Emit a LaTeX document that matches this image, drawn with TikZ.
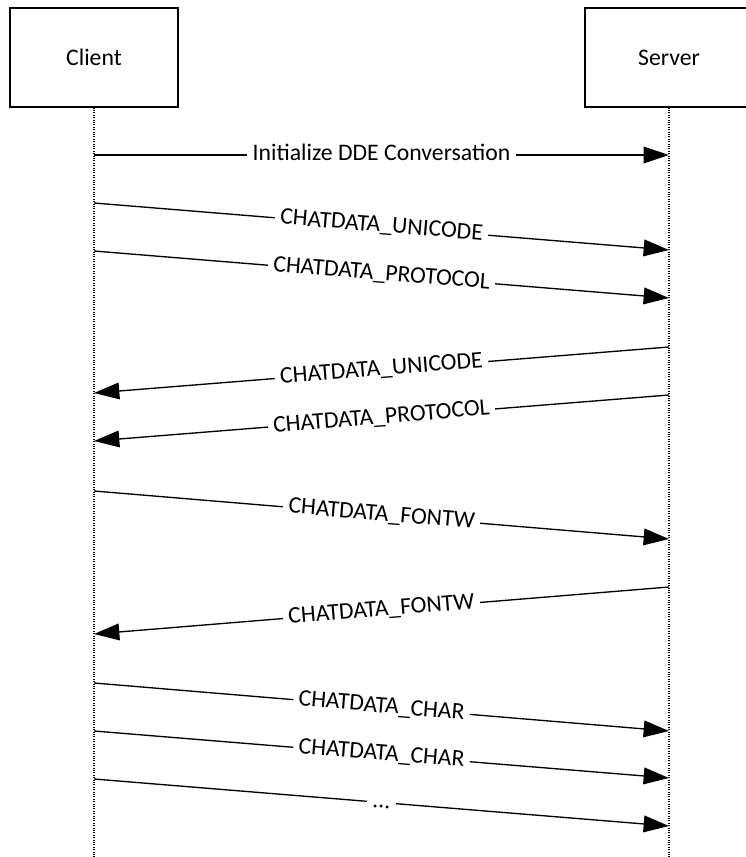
\documentclass[tikz,border=0pt]{standalone}
\usepackage{fontspec}
\setmainfont{Carlito}
\usetikzlibrary{arrows.meta}

\tikzset{
  lifebox/.style={draw, line width=0.8pt, minimum width=126pt, minimum height=74.25pt, inner sep=0pt},
  lifeline/.style={line width=0.8pt, densely dotted},
  msg/.style={line width=1pt, -{Triangle[length=19pt,width=12.5pt]}},
  msglabel/.style={fill=white, inner xsep=4pt, inner ysep=0pt, sloped, midway},
}

\begin{document}
\begin{tikzpicture}[x=0.75pt,y=-0.75pt,font=\fontsize{17.8}{21}\selectfont]
        \useasboundingbox (0,0) rectangle (746,857);
        \clip (0,0) rectangle (746,857);

        % participants
        \node [lifebox] (client) at (94,57.5) {Client};
        \node [lifebox] (server) at (669,57.5) {Server};

        \coordinate (cend) at (94,857);
        \coordinate (send) at (669,857);
        \draw [lifeline] (client.south) -- (cend);
        \draw [lifeline] (server.south) -- (send);

        % points on the lifelines
        \coordinate (c1) at (94,155);  \coordinate (s1) at (669,155);
        \coordinate (c2) at (94,203);  \coordinate (s2) at (669,250);
        \coordinate (c3) at (94,251);  \coordinate (s3) at (669,298);
        \coordinate (c4) at (94,393);  \coordinate (s4) at (669,347);
        \coordinate (c5) at (94,441);  \coordinate (s5) at (669,395);
        \coordinate (c6) at (94,491);  \coordinate (s6) at (669,539);
        \coordinate (c7) at (94,634);  \coordinate (s7) at (669,587);
        \coordinate (c8) at (94,683);  \coordinate (s8) at (669,731);
        \coordinate (c9) at (94,731);  \coordinate (s9) at (669,778);
        \coordinate (c10) at (94,779); \coordinate (s10) at (669,826);

        % messages
        \draw [msg] (c1) -- (s1) node [msglabel] {\strut Initialize DDE Conversation};
        \draw [msg] (c2) -- (s2) node [msglabel] {\strut CHATDATA\_UNICODE};
        \draw [msg] (c3) -- (s3) node [msglabel] {\strut CHATDATA\_PROTOCOL};
        \draw [msg] (s4) -- (c4) node [msglabel] {\strut CHATDATA\_UNICODE};
        \draw [msg] (s5) -- (c5) node [msglabel] {\strut CHATDATA\_PROTOCOL};
        \draw [msg] (c6) -- (s6) node [msglabel] {\strut CHATDATA\_FONTW};
        \draw [msg] (s7) -- (c7) node [msglabel] {\strut CHATDATA\_FONTW};
        \draw [msg] (c8) -- (s8) node [msglabel] {\strut CHATDATA\_CHAR};
        \draw [msg] (c9) -- (s9) node [msglabel] {\strut CHATDATA\_CHAR};
        \draw [msg] (c10) -- (s10) node [msglabel] {\strut ...};

    \end{tikzpicture}
\end{document}
